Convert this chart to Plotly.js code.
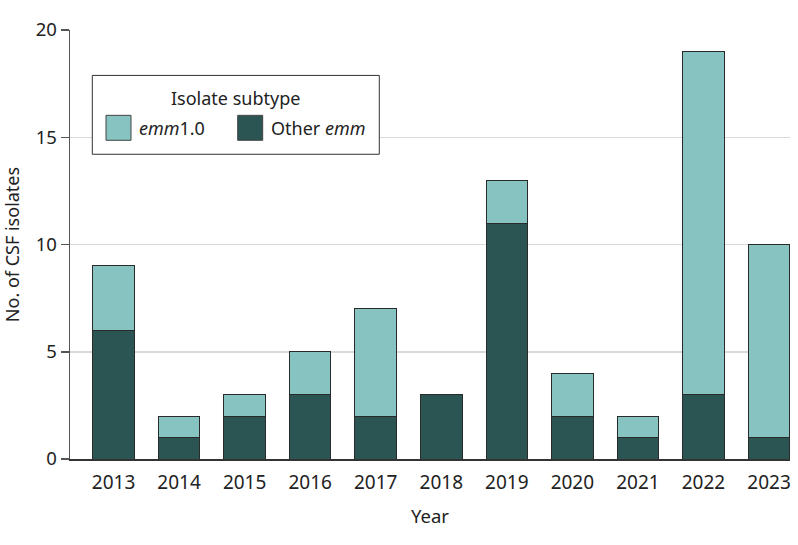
<!DOCTYPE html>
<html>
<head>
<meta charset="utf-8">
<script src="https://cdn.plot.ly/plotly-3.0.1.min.js"></script>
<style>html,body{margin:0;padding:0;background:#fff;}#chart{width:798px;height:545px;}</style>
</head>
<body>
<div id="chart"></div>
<script>
const years = ['2013','2014','2015','2016','2017','2018','2019','2020','2021','2022','2023'];
const otherEmm = [6, 1, 2, 3, 2, 3, 11, 2, 1, 3, 1];
const emm10 = [3, 1, 1, 2, 5, 0, 2, 2, 1, 16, 9];
const yTicks = [0, 5, 10, 15, 20];

const lightColor = '#86C3C1';
const darkColor = '#2B5553';
const FONT = 'Noto Sans, DejaVu Sans, sans-serif';

const W = 798, H = 545;
const L = 70, R = 8, T = 29.5, B = 85.7;
const pw = W - L - R, ph = H - T - B;
const px = x => (x - L) / pw;
const py = y => (H - B - y) / ph;

const traces = [
  {type: 'bar', name: 'Other emm', x: years, y: otherEmm,
   marker: {color: darkColor, line: {color: '#2a2a2a', width: 1}}, showlegend: false},
  {type: 'bar', name: 'emm1.0', x: years, y: emm10,
   marker: {color: lightColor, line: {color: '#2a2a2a', width: 1}}, showlegend: false}
];

const shapes = [
  {type: 'rect', xref: 'paper', yref: 'paper', x0: px(92.3), x1: px(379.3), y0: py(154), y1: py(75),
   line: {color: '#333', width: 1}, fillcolor: '#fff', layer: 'above'},
  {type: 'rect', xref: 'paper', yref: 'paper', x0: px(106), x1: px(131), y0: py(140), y1: py(115),
   line: {color: '#444', width: 1}, fillcolor: lightColor, layer: 'above'},
  {type: 'rect', xref: 'paper', yref: 'paper', x0: px(237.7), x1: px(262.7), y0: py(140), y1: py(115),
   line: {color: '#444', width: 1}, fillcolor: darkColor, layer: 'above'}
];

const annotations = [
  {xref: 'paper', yref: 'paper', x: px(235.5), y: py(98), text: 'Isolate subtype', showarrow: false,
   xanchor: 'center', yanchor: 'middle', font: {family: FONT, size: 18, color: '#222'}},
  {xref: 'paper', yref: 'paper', x: px(137), y: py(128), text: '<i>emm</i>1.0', showarrow: false,
   xanchor: 'left', yanchor: 'middle', font: {family: FONT, size: 18, color: '#222'}},
  {xref: 'paper', yref: 'paper', x: px(269), y: py(128), text: 'Other <i>emm</i>', showarrow: false,
   xanchor: 'left', yanchor: 'middle', font: {family: FONT, size: 18, color: '#222'}}
];

const layout = {
  width: W, height: H,
  margin: {l: L, r: R, t: T, b: B, pad: 0},
  paper_bgcolor: '#fff', plot_bgcolor: '#fff',
  barmode: 'stack', bargap: 0.365,
  font: {family: FONT, size: 18, color: '#222'},
  xaxis: {
    type: 'category', range: [-0.664, 10.32],
    showgrid: false, zeroline: false, showline: true, linecolor: '#333', linewidth: 1.5,
    ticks: '', ticklabelstandoff: 6, tickfont: {family: FONT, size: 19, color: '#222'},
    title: {text: 'Year', font: {family: FONT, size: 18.5, color: '#222'}, standoff: 16}
  },
  yaxis: {
    range: [0, 20], tickvals: yTicks, ticktext: yTicks.map(String),
    showgrid: true, gridcolor: '#d9d9d9', gridwidth: 1.5,
    zeroline: false, showline: true, linecolor: '#555', linewidth: 1.5,
    ticks: 'outside', ticklen: 8, tickcolor: '#555', tickwidth: 1.5,
    tickfont: {family: FONT, size: 18.5, color: '#222'},
    title: {text: 'No. of CSF isolates', font: {family: FONT, size: 18, color: '#222'}, standoff: 12}
  },
  shapes: shapes,
  annotations: annotations
};

Plotly.newPlot('chart', traces, layout, {displayModeBar: false, staticPlot: true});
</script>
</body>
</html>
